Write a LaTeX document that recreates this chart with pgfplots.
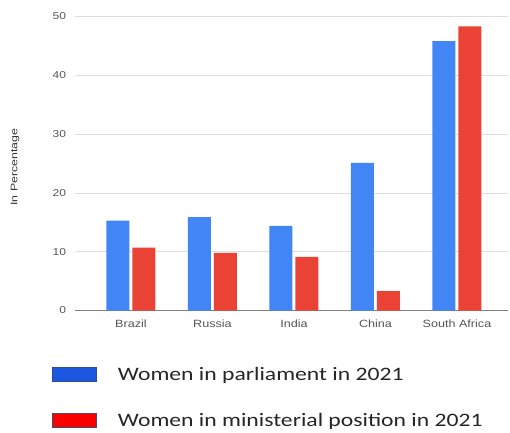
\documentclass[border=0pt]{standalone}
\usepackage{fontspec}
\setmainfont{Liberation Sans}
\newfontfamily\chartfont[FakeStretch=1.2]{Liberation Sans}
\newfontfamily\labfont[FakeStretch=1.3]{Liberation Sans}
\newfontfamily\legfont[FakeStretch=1.245]{Carlito}
\usepackage{pgfplots}
\pgfplotsset{compat=1.18}
\definecolor{gblue}{HTML}{4285F4}
\definecolor{gred}{HTML}{EA4335}
\definecolor{lblue}{HTML}{1D57E0}
\definecolor{lblueb}{HTML}{2E4C9C}
\definecolor{lred}{HTML}{FA0000}
\definecolor{lredb}{HTML}{4C4A6A}
\definecolor{ticktext}{HTML}{555555}
\begin{document}
\begin{tikzpicture}
\path[use as bounding box] (0,0) rectangle (510bp,433bp);
\begin{axis}[
  at={(75bp,122.5bp)}, anchor=south west,
  scale only axis, width=433bp, height=294bp,
  ymin=0, ymax=50, xmin=-0.687, xmax=4.626,
  ybar, bar width=23bp,
  xtick={0,1,2,3,4},
  xticklabels={Brazil,Russia,India,China,South Africa},
  ytick={0,10,20,30,40,50},
  axis lines=left,
  axis line style={-},
  y axis line style={draw=none},
  x axis line style={draw=black!50, line width=0.8bp},
  major tick length=0pt,
  ymajorgrids, grid style={black!13, line width=0.8bp},
  /pgf/number format/assume math mode=true,
  ticklabel style={font=\chartfont\fontsize{10bp}{12bp}\selectfont, text=ticktext},
  xticklabel style={yshift=-5.5bp, font=\chartfont\fontsize{10.5bp}{12bp}\selectfont},
  yticklabel style={xshift=-5.5bp},
  ylabel={In Percentage},
  ylabel style={at={(axis description cs:0,0.5)}, anchor=center, yshift=60bp, xshift=-3.5bp,
    font=\labfont\fontsize{9.5bp}{11bp}\selectfont, text=black!80},
  legend style={at={(0,0)}, anchor=north west, xshift=-23bp, yshift=-54.5bp,
    draw=none, fill=none, inner sep=0pt,
    font=\legfont\fontsize{19bp}{22bp}\selectfont, text=black!85,
    row sep=27bp, cells={anchor=west},
    /tikz/every odd column/.style={column sep=19bp}},
]
\addplot[draw=none, fill=gblue, bar shift=-13bp, forget plot] coordinates {(0,15.3) (1,15.9) (2,14.4) (3,25.1) (4,45.8)};
\addplot[draw=none, fill=gred, bar shift=13bp, forget plot] coordinates {(0,10.7) (1,9.8) (2,9.1) (3,3.3) (4,48.3)};
\addlegendimage{legend image code/.code={\draw[draw=lblueb, fill=lblue, line width=0.8bp] (0bp,-7bp) rectangle (44bp,7bp);}}
\addlegendentry{Women in parliament in 2021}
\addlegendimage{legend image code/.code={\draw[draw=lredb, fill=lred, line width=0.8bp] (0bp,-7bp) rectangle (44bp,7bp);}}
\addlegendentry{Women in ministerial position in 2021}
\end{axis}
\end{tikzpicture}
\end{document}
